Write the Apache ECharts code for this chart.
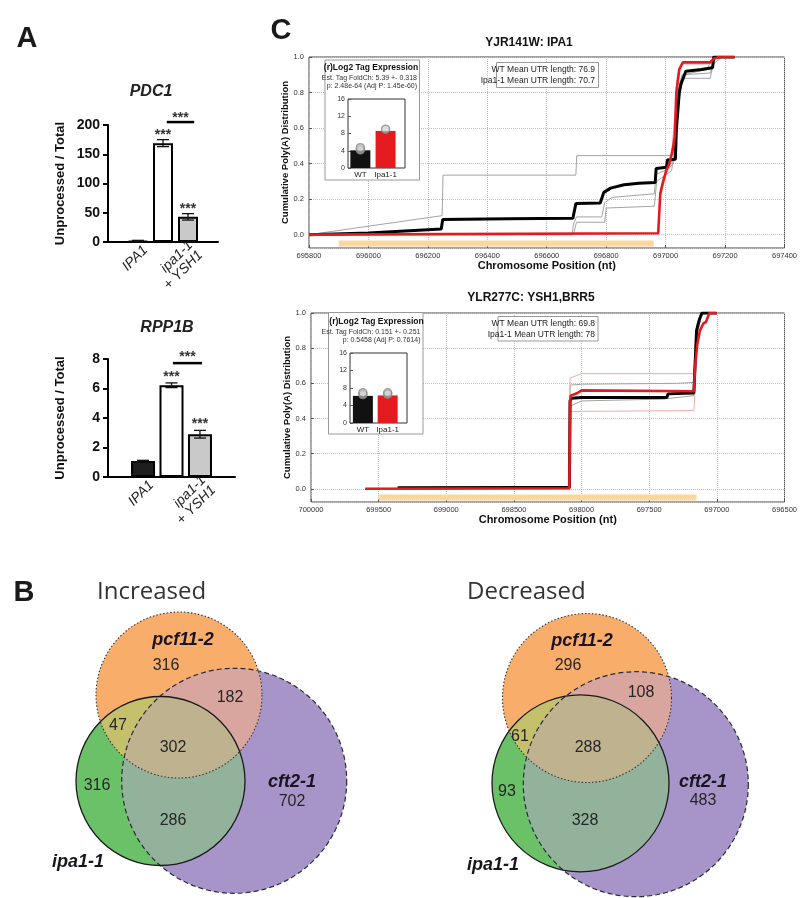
<!DOCTYPE html>
<html><head><meta charset="utf-8">
<script src="https://cdn.jsdelivr.net/npm/echarts@6/dist/echarts.min.js"></script>
<style>html,body{margin:0;padding:0;background:#fff}#c{width:800px;height:898px}</style>
</head><body><div id="c"></div>
<script>
// ================= DATA =================
// Panel A
const aCategories = ['IPA1', 'ipa1-1', 'ipa1-1\n+ YSH1'];
const aPositions = [1, 2, 3];
const pdc1Values = [2, 169, 43];
const pdc1Errors = [0.8, 6, 5.5];
const pdc1Stars = ['', '***', '***'];
const pdc1Bracket = [2.15, 3.25, 205, '***'];
const rpp1bValues = [1.08, 6.22, 2.9];
const rpp1bErrors = [0.05, 0.16, 0.26];
const rpp1bStars = ['', '***', '***'];
const rpp1bBracket = [2.05, 3.07, 7.72, '***'];

// Panel C (top): YJR141W: IPA1
const ipa1WT = [[695800,0],[696000,0.01],[696245,0.032],[696250,0.086],[696470,0.09],[696688,0.092],[696698,0.175],[696780,0.178],[696792,0.238],[696815,0.262],[696860,0.281],[696910,0.29],[696965,0.293],[696968,0.372],[697003,0.38],[697006,0.42],[697033,0.425],[697036,0.59],[697046,0.80],[697052,0.85],[697068,0.92],[697120,0.93],[697158,0.94],[697162,1.0],[697232,1.0]];
const ipa1Mut = [[695800,0],[696975,0.008],[696979,0.01],[696982,0.23],[696990,0.29],[697002,0.36],[697013,0.40],[697024,0.48],[697031,0.55],[697036,0.80],[697046,0.93],[697058,0.97],[697150,0.97],[697162,0.99],[697180,1.0],[697232,1.0]];
const ipa1WTRep1 = [[695800,0],[696248,0.107],[696251,0.335],[696698,0.335],[696701,0.445],[697020,0.445],[697030,0.6],[697040,0.8],[697055,0.9],[697150,0.91],[697165,1.0],[697232,1.0]];
const ipa1WTRep2 = [[695800,0],[696685,0.0],[696690,0.06],[696700,0.10],[696785,0.10],[696795,0.18],[696820,0.21],[696962,0.23],[696968,0.34],[697010,0.37],[697025,0.40],[697040,0.72],[697050,0.86],[697065,0.88],[697150,0.88],[697160,0.96],[697190,1.0]];
const ipa1WTRep3 = [[695800,0],[696690,0],[696700,0.07],[696795,0.07],[696800,0.15],[696962,0.16],[696970,0.30],[697020,0.36],[697034,0.52],[697045,0.76],[697060,0.90],[697140,0.93],[697150,0.97],[697175,1.0]];
const ipa1MutRep1 = [[696976,0],[696981,0.2],[697000,0.33],[697020,0.45],[697032,0.7],[697040,0.9],[697055,0.96],[697150,0.96],[697170,1.0],[697230,1.0]];
const ipa1Gene = [695900, 696960];
const ipa1Inset = [4.1, 8.6];
const ipa1InsetReps = [[0,4.2],[0,4.7],[1,9.0]];
const ipa1InsetText = ['(r)Log2 Tag Expression', 'Est. Tag FoldCh: 5.39 +- 0.318', 'p: 2.48e-64 (Adj P: 1.45e-60)'];
const ipa1UTRText = ['WT Mean UTR length: 76.9', 'Ipa1-1 Mean UTR length: 70.7'];

// Panel C (bottom): YLR277C: YSH1,BRR5
const ysh1WT = [[699360,0.006],[698450,0.008],[698090,0.008],[698085,0.50],[698075,0.515],[698000,0.52],[697370,0.52],[697360,0.54],[697170,0.545],[697150,0.90],[697130,0.96],[697110,1.0],[697000,1.0]];
const ysh1Mut = [[699600,0],[698090,0.003],[698085,0.50],[698080,0.53],[698030,0.545],[698000,0.56],[697170,0.555],[697160,0.70],[697145,0.82],[697125,0.90],[697100,0.94],[697080,0.95],[697055,1.0],[697000,1.0]];
const ysh1WTRep1 = [[699350,0],[698090,0.005],[698085,0.59],[698000,0.595],[697300,0.60],[697170,0.605],[697150,0.93],[697120,1.0],[697000,1.0]];
const ysh1WTRep2 = [[699350,0],[698090,0.005],[698085,0.47],[698000,0.50],[697400,0.51],[697170,0.53],[697150,0.88],[697110,1.0]];
const ysh1MutRep1 = [[699600,0],[698090,0],[698085,0.63],[698000,0.655],[697170,0.655],[697155,0.90],[697110,1.0],[697000,1.0]];
const ysh1MutRep2 = [[699600,0],[698090,0],[698085,0.44],[697170,0.445],[697165,0.50],[697150,0.85],[697110,1.0],[697000,1.0]];
const ysh1Gene = [699500, 697150];
const ysh1Inset = [6.2, 6.3];
const ysh1InsetReps = [[0,6.5],[0,6.9],[1,6.6],[1,6.9]];
const ysh1InsetText = ['(r)Log2 Tag Expression', 'Est. Tag FoldCh: 0.151 +- 0.251', 'p: 0.5458 (Adj P: 0.7614)'];
const ysh1UTRText = ['WT Mean UTR length: 69.8', 'Ipa1-1 Mean UTR length: 78'];
const insetCategories = ['WT', 'Ipa1-1'];

// Panel B (Venn counts)
const vennSetNames = {pcf: 'pcf11-2', cft: 'cft2-1', ipa: 'ipa1-1'};
const vennRegions = ['pcfOnly', 'pcfCft', 'pcfIpa', 'all', 'ipaOnly', 'cftOnly', 'ipaCft'];
const increasedCounts = [316, 182, 47, 302, 316, 702, 286];
const decreasedCounts = [296, 108, 61, 288, 93, 483, 328];

// ================= STYLE / LAYOUT =================
const SANS = "'Liberation Sans', Arial, Helvetica, sans-serif";
const NARROW = "'Liberation Sans Narrow', 'Arial Narrow', 'Liberation Sans', sans-serif";
const OPEN = "'Open Sans', 'Noto Sans', sans-serif";
const aBarColors = ['#1e1e1e', '#ffffff', '#c9c9c9'];
const RED = '#e31b1f';
const LABEL_SHIFT = 0.3; // rotated category labels sit slightly right of the bar centre
const VC = {pcf: '#f8ad6b', cft: '#a795ca', ipa: '#6bc168', pcfCft: '#d9a59f', pcfIpa: '#c4c06c', ipaCft: '#92b29b', all: '#bfb38f'};

const incLayout = {
  circles: {pcf: [179, 695, 83], ipa: [160.5, 781, 84.5], cft: [234.2, 780.8, 112.5]},
  labels: {pcfOnly: [166, 666], pcfCft: [230, 698], pcfIpa: [118, 726], all: [173, 748], ipaOnly: [97, 786], cftOnly: [292, 802], ipaCft: [173, 821]},
  names: {pcf: [183, 640], cft: [292, 782], ipa: [78, 862]}, title: [97, 592], titleText: 'Increased'
};
const decLayout = {
  circles: {pcf: [587, 698, 84.5], ipa: [580.5, 783.3, 88.5], cft: [635.8, 784.2, 112.5]},
  labels: {pcfOnly: [568, 666], pcfCft: [641, 693], pcfIpa: [520, 737], all: [588, 748], ipaOnly: [507, 792], cftOnly: [703, 801], ipaCft: [585, 821]},
  names: {pcf: [582, 641], cft: [703, 782], ipa: [493, 865]}, title: [467, 592], titleText: 'Decreased'
};

// ================= HELPERS =================
function txt(x, y, text, font, extra) {
  return {type: 'text', x: x, y: y, z: 20, silent: true,
    style: Object.assign({text: text, font: font, fill: '#222', textAlign: 'center', textVerticalAlign: 'middle', verticalAlign: 'middle'}, extra || {})};
}
function regionPoints(cs) {
  const pts = [];
  cs.forEach((c, i) => {
    for (let k = 0; k < 720; k++) {
      const t = k / 720 * 2 * Math.PI;
      const px = c[0] + c[2] * Math.cos(t), py = c[1] + c[2] * Math.sin(t);
      if (cs.every((o, j) => j === i || Math.hypot(px - o[0], py - o[1]) <= o[2] + 0.01)) pts.push([px, py]);
    }
  });
  let cx = 0, cy = 0;
  pts.forEach(p => { cx += p[0]; cy += p[1]; });
  cx /= pts.length; cy /= pts.length;
  pts.sort((a, b) => Math.atan2(a[1] - cy, a[0] - cx) - Math.atan2(b[1] - cy, b[0] - cx));
  return pts;
}
function vennGraphics(L, counts) {
  const c = L.circles, els = [];
  ['cft', 'pcf', 'ipa'].forEach(k => els.push({type: 'circle', z: 1, silent: true, shape: {cx: c[k][0], cy: c[k][1], r: c[k][2]}, style: {fill: VC[k]}}));
  [['pcf', 'cft', 'pcfCft'], ['pcf', 'ipa', 'pcfIpa'], ['ipa', 'cft', 'ipaCft']].forEach(p => {
    els.push({type: 'polygon', z: 2, silent: true, shape: {points: regionPoints([c[p[0]], c[p[1]]])}, style: {fill: VC[p[2]]}});
  });
  els.push({type: 'polygon', z: 3, silent: true, shape: {points: regionPoints([c.pcf, c.ipa, c.cft])}, style: {fill: VC.all}});
  els.push({type: 'circle', z: 4, silent: true, shape: {cx: c.cft[0], cy: c.cft[1], r: c.cft[2]}, style: {fill: null, stroke: '#2a2a3a', lineWidth: 1.2, lineDash: [5, 3]}});
  els.push({type: 'circle', z: 4, silent: true, shape: {cx: c.pcf[0], cy: c.pcf[1], r: c.pcf[2]}, style: {fill: null, stroke: '#333', lineWidth: 1.1, lineDash: [1.5, 2]}});
  els.push({type: 'circle', z: 4, silent: true, shape: {cx: c.ipa[0], cy: c.ipa[1], r: c.ipa[2]}, style: {fill: null, stroke: '#1a1a1a', lineWidth: 1.3}});
  vennRegions.forEach((r, i) => els.push(txt(L.labels[r][0], L.labels[r][1], String(counts[i]), '16px ' + SANS, {fill: '#262626'})));
  Object.keys(vennSetNames).forEach(k => els.push(txt(L.names[k][0], L.names[k][1], vennSetNames[k], 'italic bold 18px ' + SANS, {fill: '#1a1420'})));
  els.push(txt(L.title[0], L.title[1], L.titleText, '24px ' + OPEN, {fill: '#333', textAlign: 'left'}));
  return els;
}
function infoBox(x, y, w, h) {
  return {type: 'rect', z: 5, silent: true, shape: {x: x, y: y, width: w, height: h}, style: {fill: '#fff', stroke: '#999', lineWidth: 1}};
}

// ================= AXES =================
function aXAxis(gi, min, max) {
  return {type: 'value', gridIndex: gi, min: min, max: max,
    axisLine: {show: true, onZero: false, lineStyle: {color: '#000', width: 2}}, axisTick: {show: false}, splitLine: {show: false},
    axisLabel: {customValues: aPositions.map(p => p + LABEL_SHIFT), rotate: 45, fontStyle: 'italic', fontSize: 14, fontFamily: SANS, color: '#222', margin: 6,
      showMinLabel: true, showMaxLabel: true, hideOverlap: false,
      formatter: v => { const i = aPositions.findIndex(p => Math.abs(p + LABEL_SHIFT - v) < 1e-6); return i >= 0 ? aCategories[i] : ''; }}};
}
function aYAxis(gi, max, interval) {
  return {type: 'value', gridIndex: gi, min: 0, max: max, interval: interval,
    axisLine: {show: true, onZero: false, lineStyle: {color: '#000', width: 2}}, axisTick: {show: true, length: 5, lineStyle: {color: '#000', width: 2}},
    splitLine: {show: false}, axisLabel: {fontWeight: 'bold', fontSize: 14, color: '#111', fontFamily: SANS, margin: 8},
    name: 'Unprocessed / Total', nameLocation: 'middle', nameGap: 41, nameMoveOverlap: false,
    nameTextStyle: {fontWeight: 'bold', fontSize: 13, fontFamily: SANS, color: '#111'}};
}
function cXAxis(gi, min, max, interval, inverse) {
  return {type: 'value', gridIndex: gi, min: min, max: max, interval: interval, inverse: inverse,
    axisLine: {show: false, onZero: false}, axisTick: {show: true, inside: true, length: 3, lineStyle: {color: '#555'}},
    splitLine: {show: true, lineStyle: {type: 'dotted', color: '#bdbdbd'}},
    axisLabel: {fontSize: 7.5, fontFamily: NARROW, color: '#333', margin: 4, formatter: v => String(v)},
    name: 'Chromosome Position (nt)', nameLocation: 'middle', nameGap: 12, nameMoveOverlap: false,
    nameTextStyle: {fontWeight: 'bold', fontSize: 11, fontFamily: NARROW, color: '#111'}};
}
function cYAxis(gi) {
  return {type: 'value', gridIndex: gi, min: -0.075, max: 1.0, splitNumber: 5,
    axisLine: {show: false, onZero: false}, axisTick: {show: true, inside: true, length: 3, lineStyle: {color: '#555'}},
    splitLine: {show: true, lineStyle: {type: 'dotted', color: '#bdbdbd'}},
    axisLabel: {showMinLabel: false, fontSize: 7.5, fontFamily: NARROW, color: '#333', margin: 5, formatter: v => v.toFixed(1)},
    name: 'Cumulative Poly(A) Distribution', nameLocation: 'middle', nameGap: 19, nameMoveOverlap: false,
    nameTextStyle: {fontWeight: 'bold', fontSize: 9.5, fontFamily: NARROW, color: '#111'}};
}
function insetXAxis(gi, min, max) {
  return {type: 'value', gridIndex: gi, min: min, max: max, z: 7,
    axisLine: {show: false, onZero: false}, axisTick: {show: false}, splitLine: {show: false},
    axisLabel: {customValues: [0, 1], fontSize: 8, fontFamily: NARROW, color: '#222', margin: 3,
      showMinLabel: true, showMaxLabel: true, hideOverlap: false,
      formatter: v => insetCategories[v] || ''}};
}
function insetYAxis(gi) {
  return {type: 'value', gridIndex: gi, min: 0, max: 16, interval: 4, z: 7,
    axisLine: {show: false, onZero: false}, axisTick: {show: true, inside: true, length: 3, lineStyle: {color: '#555'}},
    splitLine: {show: false}, axisLabel: {fontSize: 7, fontFamily: NARROW, color: '#333', margin: 3}};
}

// ================= SERIES =================
function aBarSeries(ai, vals, bw) {
  return {type: 'bar', xAxisIndex: ai, yAxisIndex: ai, barWidth: bw, z: 3, silent: true,
    data: aPositions.map((x, i) => ({value: [x, vals[i]], itemStyle: {color: aBarColors[i], borderColor: '#000', borderWidth: 2}}))};
}
function errSeries(ai, vals, errs, capHalf) {
  return {type: 'custom', xAxisIndex: ai, yAxisIndex: ai, z: 5, silent: true, clip: false,
    data: aPositions.map((x, i) => [x, vals[i], errs[i]]),
    renderItem: (params, api) => {
      const x = api.value(0), v = api.value(1), e = api.value(2);
      const hi = api.coord([x, v + e]), lo = api.coord([x, v - e]);
      const st = {stroke: '#111', lineWidth: 1.3};
      return {type: 'group', children: [
        {type: 'line', shape: {x1: hi[0], y1: hi[1], x2: lo[0], y2: lo[1]}, style: st},
        {type: 'line', shape: {x1: hi[0] - capHalf, y1: hi[1], x2: hi[0] + capHalf, y2: hi[1]}, style: st},
        {type: 'line', shape: {x1: lo[0] - capHalf, y1: lo[1], x2: lo[0] + capHalf, y2: lo[1]}, style: st}]};
    }};
}
function starSeries(ai, vals, errs, stars, bracket, off) {
  const data = aPositions.map((x, i) => [x, x, vals[i] + errs[i], 0]);
  data.push([bracket[0], bracket[1], bracket[2], 1]);
  const labels = stars.concat([bracket[3]]);
  return {type: 'custom', xAxisIndex: ai, yAxisIndex: ai, z: 6, silent: true, clip: false, data: data,
    renderItem: (params, api) => {
      const lab = labels[params.dataIndex];
      if (!lab) return null;
      const a = api.coord([api.value(0), api.value(2)]), b = api.coord([api.value(1), api.value(2)]);
      const ch = [{type: 'text', x: (a[0] + b[0]) / 2, y: a[1] - off,
        style: {text: lab, font: 'bold 14px ' + SANS, fill: '#333', textAlign: 'center', textVerticalAlign: 'middle', verticalAlign: 'middle'}}];
      if (api.value(3)) ch.push({type: 'line', shape: {x1: a[0], y1: a[1], x2: b[0], y2: b[1]}, style: {stroke: '#000', lineWidth: 2.5}});
      return {type: 'group', children: ch};
    }};
}
function lineS(ai, data, color, width, z) {
  return {type: 'line', xAxisIndex: ai, yAxisIndex: ai, data: data, symbol: 'none', showSymbol: false, silent: true,
    lineStyle: {color: color, width: width}, z: z};
}
function geneS(ai, range) {
  return lineS(ai, [[range[0], -0.05], [range[1], -0.05]], '#fbd7a0', 6, 1);
}
function insetBarS(ai, vals) {
  return {type: 'bar', xAxisIndex: ai, yAxisIndex: ai, barWidth: 20, z: 8, silent: true,
    data: vals.map((v, i) => ({value: [i, v], itemStyle: {color: i === 0 ? '#111' : RED}}))};
}
function insetRepS(ai, reps) {
  return {type: 'scatter', xAxisIndex: ai, yAxisIndex: ai, z: 9, silent: true, symbol: 'circle', symbolSize: 8,
    itemStyle: {color: 'rgba(205,205,205,0.8)', borderColor: '#8a8a8a', borderWidth: 1.5}, data: reps};
}

// ================= GRAPHIC =================
const graphics = [
  txt(27, 39, 'A', 'bold 29px ' + SANS, {fill: '#1a1a1a'}),
  txt(24, 593, 'B', 'bold 29px ' + SANS, {fill: '#1a1a1a'}),
  txt(281, 31, 'C', 'bold 29px ' + SANS, {fill: '#1a1a1a'}),
  txt(151, 92, 'PDC1', 'italic bold 16px ' + SANS),
  txt(167, 328, 'RPP1B', 'italic bold 16px ' + SANS),
  txt(529, 43, 'YJR141W: IPA1', 'bold 12px ' + NARROW, {fill: '#111'}),
  txt(531, 298, 'YLR277C: YSH1,BRR5', 'bold 12px ' + NARROW, {fill: '#111'}),
  // top UTR box
  infoBox(496.5, 62.5, 102, 25),
  txt(595, 69.5, ipa1UTRText[0], '8.5px ' + NARROW, {textAlign: 'right', fill: '#222'}),
  txt(595, 81, ipa1UTRText[1], '8.5px ' + NARROW, {textAlign: 'right', fill: '#222'}),
  // top inset box
  infoBox(325, 60, 94.5, 120),
  txt(371, 68, ipa1InsetText[0], 'bold 8.5px ' + NARROW, {fill: '#111'}),
  txt(417, 78, ipa1InsetText[1], '7px ' + NARROW, {textAlign: 'right', fill: '#333'}),
  txt(417, 86.5, ipa1InsetText[2], '7px ' + NARROW, {textAlign: 'right', fill: '#333'}),
  // bottom UTR box
  infoBox(498, 316.5, 100, 24.5),
  txt(595, 323.5, ysh1UTRText[0], '8.5px ' + NARROW, {textAlign: 'right', fill: '#222'}),
  txt(595, 335, ysh1UTRText[1], '8.5px ' + NARROW, {textAlign: 'right', fill: '#222'}),
  // bottom inset box
  infoBox(328.5, 312.5, 94.5, 121.5),
  txt(376.5, 322, ysh1InsetText[0], 'bold 8.5px ' + NARROW, {fill: '#111'}),
  txt(420.5, 332, ysh1InsetText[1], '7px ' + NARROW, {textAlign: 'right', fill: '#333'}),
  txt(420.5, 340.5, ysh1InsetText[2], '7px ' + NARROW, {textAlign: 'right', fill: '#333'})
].concat(vennGraphics(incLayout, increasedCounts), vennGraphics(decLayout, decreasedCounts));

// ================= OPTION =================
const option = {
  animation: false,
  backgroundColor: '#fff',
  grid: [
    {left: 108, top: 125, width: 110, height: 117},
    {left: 108, top: 359, width: 127, height: 118},
    {left: 309, top: 57, width: 477, height: 191, show: true, borderColor: '#444', borderWidth: 1},
    {left: 348, top: 99, width: 57, height: 69, show: true, backgroundColor: '#fff', borderColor: '#333', borderWidth: 1, z: 6},
    {left: 311, top: 313, width: 476, height: 189, show: true, borderColor: '#444', borderWidth: 1},
    {left: 350, top: 353, width: 57, height: 70, show: true, backgroundColor: '#fff', borderColor: '#333', borderWidth: 1, z: 6}
  ],
  xAxis: [
    aXAxis(0, -0.2, 4.2),
    aXAxis(1, -0.23, 4.23),
    cXAxis(2, 695800, 697400, 200, false),
    insetXAxis(3, -0.49, 1.77),
    cXAxis(4, 696500, 700000, 500, true),
    insetXAxis(5, -0.52, 1.78)
  ],
  yAxis: [
    aYAxis(0, 200, 50),
    aYAxis(1, 8, 2),
    cYAxis(2),
    insetYAxis(3),
    cYAxis(4),
    insetYAxis(5)
  ],
  series: [
    aBarSeries(0, pdc1Values, 20), errSeries(0, pdc1Values, pdc1Errors, 6), starSeries(0, pdc1Values, pdc1Errors, pdc1Stars, pdc1Bracket, 4),
    aBarSeries(1, rpp1bValues, 24), errSeries(1, rpp1bValues, rpp1bErrors, 6), starSeries(1, rpp1bValues, rpp1bErrors, rpp1bStars, rpp1bBracket, 6),
    geneS(2, ipa1Gene),
    lineS(2, ipa1WTRep1, '#a3a3a3', 1, 2), lineS(2, ipa1WTRep2, '#a3a3a3', 1, 2), lineS(2, ipa1WTRep3, '#a3a3a3', 1, 2),
    lineS(2, ipa1MutRep1, '#eeaaaa', 1, 2),
    lineS(2, ipa1WT, '#000', 3, 3), lineS(2, ipa1Mut, RED, 2.6, 4),
    insetBarS(3, ipa1Inset), insetRepS(3, ipa1InsetReps),
    geneS(4, ysh1Gene),
    lineS(4, ysh1WTRep1, '#a3a3a3', 1, 2), lineS(4, ysh1WTRep2, '#a3a3a3', 1, 2),
    lineS(4, ysh1MutRep1, '#eeaaaa', 1, 2), lineS(4, ysh1MutRep2, '#eeaaaa', 1, 2),
    lineS(4, ysh1WT, '#000', 3, 3), lineS(4, ysh1Mut, RED, 2.6, 4),
    insetBarS(5, ysh1Inset), insetRepS(5, ysh1InsetReps)
  ],
  graphic: {elements: graphics}
};
const chart = echarts.init(document.getElementById('c'), null, {renderer: 'canvas', width: 800, height: 898});
chart.setOption(option);
</script>
</body></html>
